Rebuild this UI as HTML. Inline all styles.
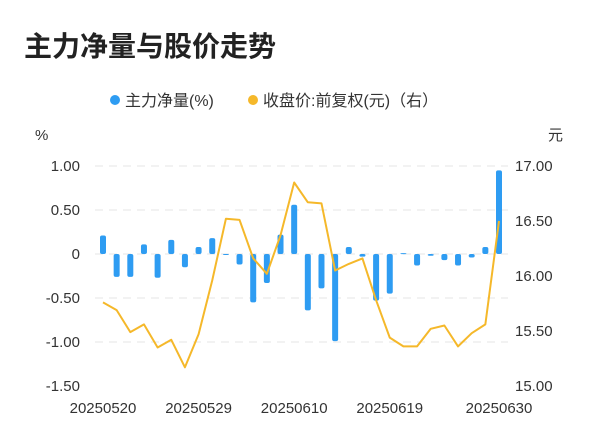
<!DOCTYPE html><html><head><meta charset="utf-8"><style>
body{margin:0;background:#fff}svg{display:block;font-family:"Liberation Sans","Noto Sans CJK SC",sans-serif}
</style></head><body>
<svg id="c" width="600" height="446">
<text x="24" y="56" font-size="28" font-weight="bold" fill="#222">主力净量与股价走势</text>
<g><circle cx="115" cy="100" r="5" fill="#2e9cf2"/><text x="125" y="106" font-size="16" fill="#333">主力净量(%)</text></g>
<g><circle cx="253" cy="100" r="5" fill="#f5b82a"/><text x="263" y="106" font-size="16" fill="#333">收盘价:前复权(元)（右）</text></g>
<text x="35" y="140" font-size="15" fill="#333">%</text>
<text x="548" y="140" font-size="15" fill="#333">元</text>
<g id="grid"></g><g id="bars"></g><g id="line"></g><g id="axes"></g>
</svg>
<script>
const netFlow=[0.21,-0.26,-0.26,0.11,-0.27,0.16,-0.15,0.08,0.18,-0.01,-0.12,-0.55,-0.33,0.22,0.56,-0.64,-0.39,-0.99,0.08,-0.03,-0.53,-0.45,0.01,-0.13,-0.02,-0.07,-0.13,-0.04,0.08,0.95];
const price=[15.76,15.69,15.49,15.56,15.35,15.42,15.17,15.47,15.96,16.52,16.51,16.16,16.02,16.37,16.85,16.67,16.66,16.05,16.11,16.16,15.78,15.44,15.36,15.36,15.52,15.55,15.36,15.48,15.56,16.50];
const leftTicks=[1.0,0.5,0,-0.5,-1.0,-1.5];
const rightTicks=[17,16.5,16,15.5,15];
const xLabelIdx=[0,7,14,21,29];
const xLabels=["20250520","20250529","20250610","20250619","20250630"];
const NS="http://www.w3.org/2000/svg";
const n=netFlow.length;
const x=i=>103+i*(499-103)/(n-1);
const yL=v=>254-v*88;
const yR=v=>166+(17-v)*110;
function mk(tag,attrs,parent){const e=document.createElementNS(NS,tag);for(const k in attrs)e.setAttribute(k,attrs[k]);document.getElementById(parent).appendChild(e);return e;}
leftTicks.forEach(v=>{
 if(v!==-1.5){const g=mk('line',{x1:95,x2:508,y1:yL(v),y2:yL(v),stroke:'#e6e6e6','stroke-dasharray':'8,6'},'grid');
 
 }
 const t=mk('text',{x:80,y:yL(v)+5,'font-size':15,fill:'#333','text-anchor':'end'},'axes');t.textContent=v===0?'0':v.toFixed(2);
 
 
});
rightTicks.forEach(v=>{
 const t=mk('text',{x:515,y:yR(v)+5,'font-size':15,fill:'#333'},'axes');t.textContent=v.toFixed(2);
 
 
});
xLabelIdx.forEach((idx,k)=>{
 const t=mk('text',{x:x(idx),y:413,'font-size':15,fill:'#333','text-anchor':'middle'},'axes');t.textContent=xLabels[k];
 
 
});
netFlow.forEach((v,i)=>{
 const y0=yL(0),y1=yL(v);const top=Math.min(y0,y1),h=Math.max(Math.abs(y1-y0),1);
 const r=mk('rect',{x:x(i)-3,y:top,width:6,height:h,rx:2,fill:'#2e9cf2'},'bars');
 
 
});
const p=mk('polyline',{points:price.map((v,i)=>x(i)+','+yR(v)).join(' '),fill:'none',stroke:'#f5b82a','stroke-width':2,'stroke-linejoin':'round'},'line');


</script></body></html>
